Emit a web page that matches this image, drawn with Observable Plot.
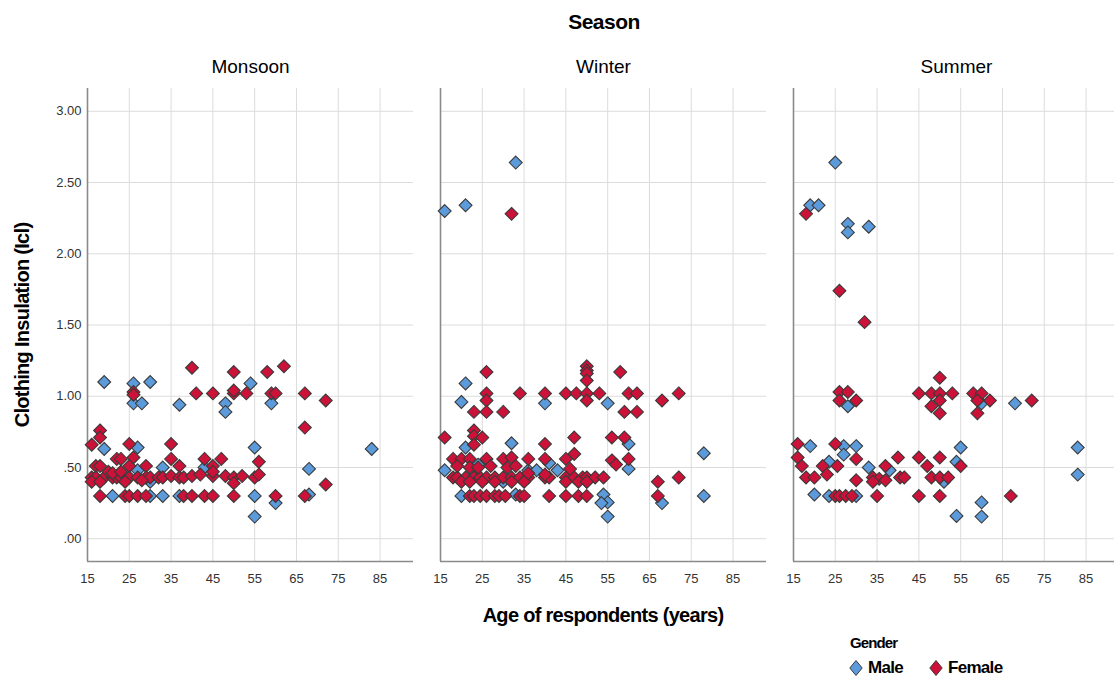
<!DOCTYPE html>
<html>
<head>
<meta charset="utf-8">
<script src="https://cdn.jsdelivr.net/npm/d3@7"></script>
<script src="https://cdn.jsdelivr.net/npm/@observablehq/plot@0.6"></script>
<style>
  html, body { margin: 0; padding: 0; background: #fff; overflow: hidden; }
  #chart { position: relative; width: 1114px; height: 681px; overflow: hidden;
           font-family: "Liberation Sans", Arial, sans-serif; }
  #chart svg.plot { position: absolute; left: 0; top: 0; max-width: none !important; height: 600px !important; }
  .t { position: absolute; white-space: nowrap; color: #000; }
  .b { font-weight: bold; letter-spacing: -0.7px; }
  .legend-item { display: inline-flex; align-items: center; }
  .legend-item svg { margin-right: 5px; }
</style>
</head>
<body>
<div id="chart"></div>
<script>
// Panel order and axis ticks
const seasons = ["Monsoon", "Winter", "Summer"];
const genders = ["Male", "Female"];
const ageTicks = [15, 25, 35, 45, 55, 65, 75, 85];
const cloTicks = [0, 0.5, 1, 1.5, 2, 2.5, 3];
const genderColors = ["#5b9bdc", "#cc1238"];

// Respondents: [age (years), clothing insulation (clo)]
const monsoonMale = [
  [19,1.10],[26,1.09],[30,1.10],[26,0.95],[28,0.95],[37,0.94],[48,0.95],[48,0.89],[54,1.09],[59,0.95],
  [19,0.63],[27,0.64],[55,0.64],[83,0.63],[33,0.50],[68,0.49],[27,0.48],[43,0.50],[30,0.40],
  [21,0.30],[30,0.30],[33,0.30],[37,0.30],[55,0.30],[60,0.25],[68,0.31],[55,0.155]
];
const monsoonFemale = [
  [40,1.20],[62,1.21],[50,1.17],[58,1.17],[26,1.03],[26,1.01],[41,1.02],[45,1.02],[50,1.02],[50,1.04],
  [53,1.02],[59,1.02],[60,1.02],[67,1.02],[72,0.97],[67,0.78],[18,0.76],[18,0.71],[16,0.66],[25,0.665],
  [35,0.665],[22,0.56],[23,0.56],[26,0.57],[35,0.56],[43,0.56],[47,0.56],[56,0.54],[17,0.51],[18,0.51],
  [25,0.51],[29,0.51],[37,0.51],[45,0.51],
  [16,0.43],[17,0.43],[19,0.43],[21,0.43],[22,0.43],[23,0.43],[25,0.43],[27,0.43],[29,0.43],[30,0.43],
  [32,0.43],[33,0.43],[35,0.44],[37,0.43],[38,0.43],[40,0.44],[42,0.45],[45,0.44],[48,0.44],[50,0.43],
  [52,0.44],[55,0.43],[56,0.45],
  [16,0.40],[18,0.40],[24,0.40],[28,0.41],[50,0.39],
  [20,0.47],[21,0.46],[23,0.47],[45,0.47],
  [18,0.30],[24,0.30],[25,0.30],[27,0.30],[29,0.30],[38,0.30],[40,0.30],[43,0.30],[45,0.30],[50,0.30],
  [60,0.30],[67,0.30],[72,0.38]
];
const winterMale = [
  [16,2.30],[21,2.34],[33,2.64],[21,1.09],[20,0.96],[40,0.95],[55,0.95],[21,0.64],[32,0.67],[60,0.665],
  [78,0.60],[60,0.49],[16,0.48],[24,0.52],[36,0.48],[38,0.48],[43,0.48],[41,0.53],[30,0.40],[50,0.40],
  [20,0.30],[33,0.31],[54,0.31],[55,0.255],[53.5,0.25],[68,0.25],[78,0.30],[55,0.155]
];
const winterFemale = [
  [32,2.28],[50,1.21],[50,1.18],[50,1.16],[50,1.11],[26,1.17],[58,1.17],[26,1.02],[26,0.97],[34,1.02],
  [40,1.02],[45,1.02],[47.5,1.02],[50,1.02],[53,1.02],[50,0.97],[60,1.02],[62,1.02],[68,0.97],[72,1.02],
  [23,0.89],[26,0.89],[30,0.89],[59,0.89],[62,0.89],[16,0.71],[23,0.76],[23,0.72],[25,0.71],[47,0.71],
  [56,0.71],[59,0.71],[23,0.66],[40,0.665],[47,0.595],
  [18,0.56],[20,0.56],[22,0.56],[26,0.56],[30,0.56],[32,0.57],[36,0.56],[40,0.56],[45,0.56],[56,0.55],
  [60,0.56],[57,0.52],
  [18,0.43],[19,0.43],[21,0.43],[23,0.43],[24.5,0.43],[26,0.43],[28,0.43],[30,0.43],[32,0.43],[34,0.43],
  [36,0.43],[40,0.43],[41,0.43],[45,0.43],[47,0.43],[49,0.43],[50,0.43],[52,0.43],[54,0.43],
  [20,0.40],[22,0.40],[25,0.40],[28,0.40],[32,0.40],[35,0.40],[45,0.40],[48,0.40],[50,0.40],
  [67,0.40],[72,0.43],[67,0.30],
  [22,0.30],[23,0.30],[24.5,0.30],[26,0.30],[28,0.30],[29,0.30],[30.5,0.30],[34,0.30],[35,0.30],[41,0.30],
  [45,0.30],[48,0.30],[50,0.30],
  [19,0.51],[22,0.50],[24,0.50],[27,0.51],[31,0.50],[33,0.51],[36,0.46],[40,0.45],[46,0.49]
];
const summerMale = [
  [25,2.64],[19,2.34],[21,2.34],[28,2.21],[28,2.15],[33,2.19],[28,0.93],[60,0.95],[68,0.95],[19,0.65],
  [27,0.65],[27,0.59],[30,0.65],[55,0.64],[83,0.64],[54,0.54],[33,0.50],[38,0.48],[23.5,0.54],[83,0.45],
  [51,0.40],[20,0.31],[23.5,0.30],[30,0.30],[60,0.255],[54,0.16],[60,0.155]
];
const summerFemale = [
  [18,2.28],[26,1.74],[32,1.52],[50,1.13],[26,1.03],[28,1.03],[45,1.02],[48,1.02],[50,1.02],[53,1.02],
  [58,1.02],[60,1.02],[26,0.97],[30,0.97],[50,0.97],[62,0.97],[72,0.97],[48,0.93],[50,0.88],[59,0.88],
  [59,0.97],[16,0.665],[25,0.665],[16,0.57],[17,0.51],[30,0.56],[40,0.57],[45,0.57],[50,0.57],[55,0.51],
  [37,0.51],[22,0.51],[25.5,0.51],[47,0.51],
  [18,0.43],[20,0.43],[23,0.45],[34,0.43],[35.5,0.42],[37,0.41],[40.5,0.43],[41.5,0.43],[48,0.43],[50,0.43],
  [52,0.43],[30,0.41],[34,0.40],
  [25,0.30],[26,0.30],[27.5,0.30],[29,0.30],[35,0.30],[45,0.30],[50,0.30],[67,0.30]
];

// Long table: males first so the female markers sit on top
const groups = [
  ["Monsoon", "Male", monsoonMale], ["Winter", "Male", winterMale], ["Summer", "Male", summerMale],
  ["Monsoon", "Female", monsoonFemale], ["Winter", "Female", winterFemale], ["Summer", "Female", summerFemale]
];
const rows = groups.flatMap(([season, gender, pts]) =>
  pts.map(([age, clo]) => ({season, gender, age, clo})));

const yMin = -0.16, yMax = 3.16;
const cloFormat = v => d3.format(".2f")(v).replace(/^0\./, ".");

const plot = Plot.plot({
  width: 1121,
  height: 600,
  marginLeft: 86,
  marginRight: 0,
  marginTop: 88,
  marginBottom: 39,
  style: {fontFamily: "'Liberation Sans', Arial, sans-serif", background: "transparent"},
  fx: {domain: seasons, paddingInner: 0.076, paddingOuter: 0, label: null},
  x: {domain: [15, 93]},
  y: {domain: [yMin, yMax]},
  color: {domain: genders, range: genderColors},
  marks: [
    Plot.gridX(ageTicks, {stroke: "#dcdcdc", strokeOpacity: 1, strokeWidth: 1}),
    Plot.gridY(cloTicks, {stroke: "#dcdcdc", strokeOpacity: 1, strokeWidth: 1}),
    Plot.ruleX([15], {stroke: "#8a8a8a", strokeWidth: 1.6}),
    Plot.ruleY([yMin], {stroke: "#8a8a8a", strokeWidth: 1.6}),
    Plot.axisX({ticks: ageTicks, tickSize: 0, tickPadding: 12, label: null, fontSize: 13, fill: "#333"}),
    Plot.axisY({ticks: cloTicks, tickSize: 0, tickPadding: 6, tickFormat: cloFormat, label: null, fontSize: 13, fill: "#333"}),
    Plot.axisFx({anchor: "top", tickSize: 0, tickPadding: 16, label: null, fontSize: 19, fill: "#000"}),
    Plot.dot(rows, {
      fx: "season", x: "age", y: "clo", fill: "gender",
      symbol: "diamond2", r: 5.8, stroke: "#3a3a3a", strokeWidth: 1.1
    })
  ]
});
plot.classList.add("plot");

const chart = document.getElementById("chart");
chart.appendChild(plot);

function addText(html, css, cls = "t b") {
  const el = document.createElement("div");
  el.className = cls;
  el.innerHTML = html;
  Object.assign(el.style, css);
  chart.appendChild(el);
  return el;
}

// Facet header, axis titles
addText("Season", {left: "604px", top: "22px", fontSize: "21px", letterSpacing: "-0.5px", transform: "translate(-50%,-50%)"});
addText("Age of respondents (years)", {left: "603px", top: "615px", fontSize: "20px", transform: "translate(-50%,-50%)"});
addText("Clothing Insulation (Icl)", {left: "22px", top: "325px", fontSize: "20px", transform: "translate(-50%,-50%) rotate(-90deg)"});

// Gender legend
addText("Gender", {left: "850px", top: "634px", fontSize: "15px", letterSpacing: "-0.9px"});
const legend = addText("", {left: "849px", top: "658px", fontSize: "17px", display: "flex"});
genders.forEach((g, i) => {
  const item = document.createElement("span");
  item.className = "legend-item";
  item.style.marginRight = i === 0 ? "26px" : "0";
  item.innerHTML = `<svg width="14" height="18" viewBox="-7 -9 14 18"><path d="M0,-7.5L6.2,0L0,7.5L-6.2,0Z" fill="${genderColors[i]}" stroke="#3a3a3a" stroke-width="1"/></svg>${g}`;
  legend.appendChild(item);
});
</script>
</body>
</html>
